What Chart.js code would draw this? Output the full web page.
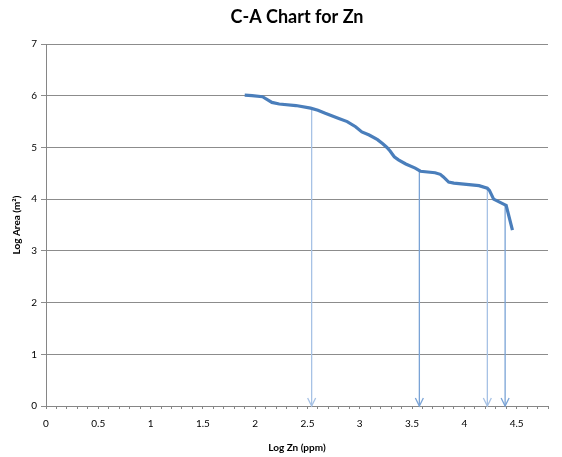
<!DOCTYPE html>
<html>
<head>
<meta charset="utf-8">
<script src="https://cdn.jsdelivr.net/npm/chart.js@4/dist/chart.umd.min.js"></script>
<style>
  html, body { margin: 0; padding: 0; background: #ffffff; }
  #wrap { width: 562px; height: 457px; position: relative; }
</style>
</head>
<body>
<div id="wrap"><canvas id="c" width="562" height="457"></canvas></div>
<script>
// Concentration–area curve: log concentration vs. log cumulative area
const logZn = [1.90, 1.97, 2.07, 2.12, 2.16, 2.23, 2.39, 2.53, 2.60, 2.67, 2.80, 2.88, 2.96, 3.02, 3.09,
               3.17, 3.22, 3.26, 3.29, 3.33, 3.37, 3.44, 3.53, 3.58, 3.72, 3.77, 3.80, 3.85, 3.90, 4.14,
               4.22, 4.24, 4.28, 4.39, 4.40, 4.46];
const logArea = [6.01, 6.00, 5.98, 5.92, 5.87, 5.84, 5.81, 5.76, 5.72, 5.66, 5.56, 5.50, 5.40, 5.30, 5.24,
                 5.15, 5.07, 5.00, 4.93, 4.82, 4.76, 4.68, 4.60, 4.54, 4.51, 4.48, 4.43, 4.33, 4.31, 4.26,
                 4.21, 4.17, 4.00, 3.89, 3.88, 3.40];

// Threshold breaks marked with arrows dropping to the x axis
const breakZn = [2.54, 3.57, 4.22, 4.39];
const breakArea = [5.76, 4.55, 4.21, 3.89];

// Axis ticks
const xTickLabels = [0, 0.5, 1, 1.5, 2, 2.5, 3, 3.5, 4, 4.5];
const yTicks = [0, 1, 2, 3, 4, 5, 6, 7];

const TITLE = 'C-A Chart for Zn';
const FONT = "Lato, 'Open Sans', 'Liberation Sans', sans-serif";
const arrowColors = ['#a7c2e5', '#7aa3d6', '#a7c2e5', '#7aa3d6'];

const datasets = [{
  label: 'C-A',
  data: logZn.map((x, i) => ({ x: x, y: logArea[i] })),
  borderColor: '#4a7ebb',
  borderWidth: 3.2,
  pointRadius: 0,
  tension: 0,
  order: 0
}];
breakZn.forEach((x, i) => {
  datasets.push({
    label: 'break ' + (i + 1),
    data: [{ x: x, y: breakArea[i] }, { x: x, y: 0 }],
    borderColor: arrowColors[i],
    borderWidth: 1.3,
    pointRadius: 0,
    order: 1,
    isArrow: true
  });
});

// Open arrowheads at the lower end of each break line
const arrowHeads = {
  id: 'arrowHeads',
  afterDatasetsDraw(chart) {
    const ctx = chart.ctx;
    chart.data.datasets.forEach((ds, i) => {
      if (!ds.isArrow) return;
      const pt = chart.getDatasetMeta(i).data[1];
      ctx.save();
      ctx.strokeStyle = ds.borderColor;
      ctx.lineWidth = 1.3;
      ctx.beginPath();
      ctx.moveTo(pt.x - 4, pt.y - 8);
      ctx.lineTo(pt.x, pt.y);
      ctx.lineTo(pt.x + 4, pt.y - 8);
      ctx.stroke();
      ctx.restore();
    });
  }
};

// Chart title centred over the plot area
const plotTitle = {
  id: 'plotTitle',
  afterDraw(chart) {
    const ctx = chart.ctx;
    const a = chart.chartArea;
    ctx.save();
    ctx.fillStyle = '#000000';
    ctx.font = 'bold 18px ' + FONT;
    ctx.textAlign = 'center';
    ctx.textBaseline = 'middle';
    ctx.fillText(TITLE, (a.left + a.right) / 2, 17);
    ctx.restore();
  }
};

new Chart(document.getElementById('c'), {
  type: 'line',
  data: { datasets: datasets },
  plugins: [arrowHeads, plotTitle],
  options: {
    responsive: false,
    animation: false,
    layout: { padding: { left: 0, right: 14, top: 44, bottom: 0 } },
    plugins: {
      legend: { display: false },
      tooltip: { enabled: false },
      title: { display: false }
    },
    scales: {
      x: {
        type: 'linear',
        min: 0,
        max: 4.8,
        afterFit(scale) { scale.height = 51; },
        afterBuildTicks(scale) {
          const t = [];
          for (let k = 0; k <= 48; k++) t.push({ value: k / 10 });
          scale.ticks = t;
        },
        ticks: {
          color: '#000000',
          font: { family: FONT, size: 10 },
          padding: 9,
          maxRotation: 0,
          autoSkip: false,
          callback(v) {
            const r = Math.round(v * 10) / 10;
            return xTickLabels.includes(r) ? String(r) : '';
          }
        },
        grid: {
          drawOnChartArea: false,
          drawTicks: true,
          tickLength: 3,
          color: '#868686'
        },
        border: { color: '#868686', width: 1 },
        title: {
          display: true,
          text: 'Log Zn (ppm)',
          color: '#000000',
          font: { family: FONT, size: 10, weight: 'bold' },
          padding: { top: 4, bottom: 3 }
        }
      },
      y: {
        type: 'linear',
        min: 0,
        max: 7,
        afterFit(scale) { scale.width = 46; },
        afterBuildTicks(scale) { scale.ticks = yTicks.map(v => ({ value: v })); },
        ticks: {
          color: '#000000',
          font: { family: FONT, size: 10 },
          padding: 4
        },
        grid: {
          color: '#8c8c8c',
          lineWidth: 1,
          tickLength: 5
        },
        border: { color: '#868686', width: 1 },
        title: {
          display: true,
          text: 'Log Area (m²)',
          color: '#000000',
          font: { family: FONT, size: 10, weight: 'bold' },
          padding: { top: 11, bottom: 0 }
        }
      }
    }
  }
});
</script>
</body>
</html>
